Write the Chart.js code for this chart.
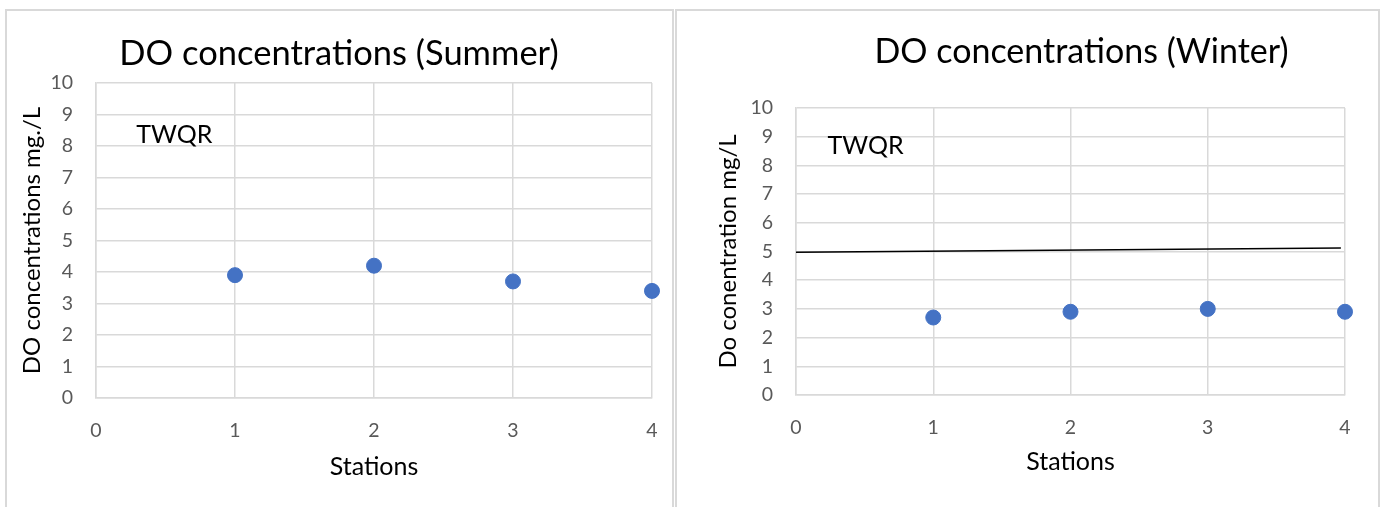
<!DOCTYPE html>
<html>
<head>
<meta charset="utf-8">
<script src="https://cdn.jsdelivr.net/npm/chart.js@4.4.1/dist/chart.umd.min.js"></script>
<style>
  body { margin: 0; background: #fff; width: 1383px; height: 507px; overflow: hidden; position: relative; }
  canvas { position: absolute; top: 0; }
  #summerChart { left: 0; }
  #winterChart { left: 675px; }
  .panel { position: absolute; top: 9px; height: 520px; border: 2px solid #d9d9d9; box-sizing: border-box; }
</style>
</head>
<body>
<div class="panel" style="left:5px; width:669px;"></div>
<div class="panel" style="left:675px; width:705px;"></div>
<canvas id="summerChart" width="675" height="507"></canvas>
<canvas id="winterChart" width="708" height="507"></canvas>
<script>
// station numbers and DO readings (mg/L)
const stations = [1, 2, 3, 4];
const summerDO = [3.9, 4.2, 3.7, 3.4];
const winterDO = [2.7, 2.9, 3.0, 2.9];
// TWQR reference line (winter chart)
const twqrX = [0, 3.97];
const twqrY = [4.97, 5.12];
// axis ranges
const xRange = [0, 4];
const yRange = [0, 10];

const FONT = 'Lato, "Open Sans", sans-serif';
const GRID = '#d9d9d9';
const TICK = '#595959';
const BLUE = '#4472C4';

const toPoints = (xs, ys) => xs.map((x, i) => ({ x: x, y: ys[i] }));

// draws the chart title and the "TWQR" note
const panelText = {
    id: 'panelText',
    afterDraw(chart, args, opts) {
        const ctx = chart.ctx;
        ctx.save();
        ctx.fillStyle = '#000';
        ctx.textBaseline = 'alphabetic';
        ctx.font = opts.titleSize + 'px ' + FONT;
        ctx.textAlign = 'center';
        ctx.fillText(opts.title, opts.titleX, opts.titleY);
        ctx.font = opts.labelSize + 'px ' + FONT;
        ctx.textAlign = 'left';
        const xs = chart.scales.x, ys = chart.scales.y;
        ctx.fillText(opts.label, xs.getPixelForValue(opts.labelAt[0]), ys.getPixelForValue(opts.labelAt[1]));
        ctx.restore();
    }
};

function makeOptions(cfg) {
    return {
        responsive: false,
        animation: false,
        layout: { padding: cfg.padding },
        plugins: {
            legend: { display: false },
            tooltip: { enabled: false },
            title: { display: false },
            panelText: cfg.text
        },
        scales: {
            x: {
                type: 'linear',
                min: xRange[0],
                max: xRange[1],
                // tick marks kept invisible, their length spaces the labels
                grid: { color: GRID, lineWidth: 1.5, tickLength: 21, tickColor: 'rgba(0,0,0,0)' },
                border: { color: GRID, width: 1.5 },
                ticks: { stepSize: 1, color: TICK, padding: 0, font: { family: FONT, size: 19.5 } },
                title: { display: true, text: 'Stations', color: '#000', font: { family: FONT, size: 25 }, padding: { top: 0, bottom: cfg.xTitlePad } },
                afterFit: s => { s.height = 95; }
            },
            y: {
                min: yRange[0],
                max: yRange[1],
                grid: { color: GRID, lineWidth: 1.5, tickLength: 23, tickColor: 'rgba(0,0,0,0)' },
                border: { color: GRID, width: 1.5 },
                ticks: { stepSize: 1, color: TICK, padding: 0, font: { family: FONT, size: 19.5 } },
                title: { display: true, text: cfg.yTitle, color: '#000', font: { family: FONT, size: 24 }, padding: { top: cfg.yTitlePad, bottom: 0 } },
                afterFit: s => { s.width = cfg.yWidth; }
            }
        }
    };
}

new Chart(document.getElementById('summerChart').getContext('2d'), {
    type: 'scatter',
    data: {
        datasets: [{
            label: 'Summer',
            data: toPoints(stations, summerDO),
            backgroundColor: BLUE,
            borderColor: BLUE,
            pointRadius: 7.5,
            clip: false
        }]
    },
    options: makeOptions({
        padding: { left: 10, top: 83, right: 23, bottom: 14 },
        yWidth: 86,
        yTitlePad: 7.6,
        xTitlePad: 11,
        yTitle: 'DO concentrations mg./L',
        text: { title: 'DO concentrations (Summer)', titleSize: 34.5, titleX: 339, titleY: 65, label: 'TWQR', labelSize: 25, labelAt: [0.29, 8.1] }
    }),
    plugins: [panelText]
});

new Chart(document.getElementById('winterChart').getContext('2d'), {
    type: 'scatter',
    data: {
        datasets: [{
            label: 'Winter',
            data: toPoints(stations, winterDO),
            backgroundColor: BLUE,
            borderColor: BLUE,
            pointRadius: 7.5,
            clip: false
        }, {
            label: 'TWQR',
            type: 'line',
            data: toPoints(twqrX, twqrY),
            borderColor: '#000',
            borderWidth: 1.5,
            pointRadius: 0,
            fill: false
        }]
    },
    options: makeOptions({
        padding: { left: 30, top: 108, right: 38, bottom: 17 },
        yWidth: 91,
        yTitlePad: 8.6,
        xTitlePad: 13,
        yTitle: 'Do conentration mg/L',
        text: { title: 'DO concentrations (Winter)', titleSize: 34, titleX: 406.5, titleY: 63, label: 'TWQR', labelSize: 25, labelAt: [0.23, 8.4] }
    }),
    plugins: [panelText]
});
</script>
</body>
</html>
